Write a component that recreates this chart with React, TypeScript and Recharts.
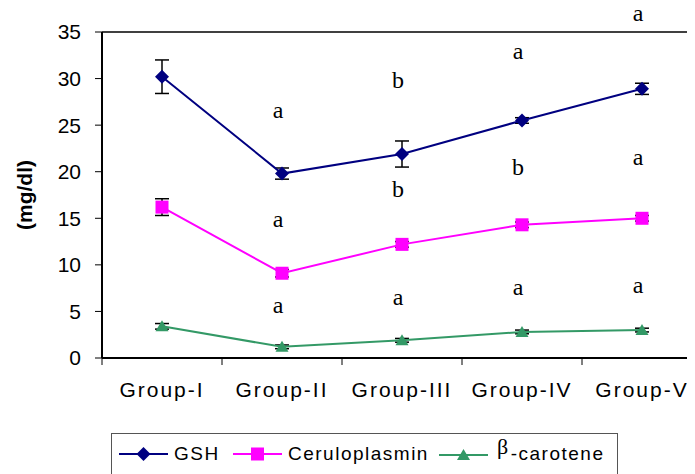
import React from 'react';
import { LineChart, Line, XAxis, YAxis, ErrorBar, ReferenceLine, ReferenceDot, Label } from 'recharts';

const groups = ['Group-I', 'Group-II', 'Group-III', 'Group-IV', 'Group-V'];
const gsh = [30.2, 19.8, 21.9, 25.5, 28.9];
const gshErr = [1.8, 0.6, 1.4, 0.3, 0.6];
const cerulo = [16.2, 9.1, 12.2, 14.3, 15.0];
const ceruloErr = [0.9, 0.4, 0.3, 0.3, 0.3];
const carotene = [3.4, 1.2, 1.9, 2.8, 3.0];
const caroteneErr = [0.3, 0.2, 0.2, 0.2, 0.2];
const yTicks = [0, 5, 10, 15, 20, 25, 30, 35];

// significance letters: group, letter, value at baseline
const letters = [
  { group: 'Group-II', text: 'a', y: 25.8 },
  { group: 'Group-II', text: 'a', y: 14.1 },
  { group: 'Group-II', text: 'a', y: 4.8 },
  { group: 'Group-III', text: 'b', y: 29.0 },
  { group: 'Group-III', text: 'b', y: 17.3 },
  { group: 'Group-III', text: 'a', y: 5.7 },
  { group: 'Group-IV', text: 'a', y: 32.1 },
  { group: 'Group-IV', text: 'b', y: 19.6 },
  { group: 'Group-IV', text: 'a', y: 6.8 },
  { group: 'Group-V', text: 'a', y: 36.2 },
  { group: 'Group-V', text: 'a', y: 20.7 },
  { group: 'Group-V', text: 'a', y: 7.0 },
];

const data = groups.map((g, i) => ({
  group: g,
  gsh: gsh[i],
  gshErr: gshErr[i],
  cerulo: cerulo[i],
  ceruloErr: ceruloErr[i],
  carotene: carotene[i],
  caroteneErr: caroteneErr[i],
}));

const series = [
  { key: 'gsh', err: 'gshErr', name: 'GSH', color: '#000080', shape: 'diamond' },
  { key: 'cerulo', err: 'ceruloErr', name: 'Ceruloplasmin', color: '#FF00FF', shape: 'square' },
  { key: 'carotene', err: 'caroteneErr', name: '-carotene', color: '#339966', shape: 'triangle' },
];

const SANS = '"Liberation Sans", Arial, sans-serif';
const SERIF = '"Liberation Serif", "Times New Roman", serif';

const CHART_W = 700;
const Y_AXIS_W = 94;
const MARGIN_R = 6;
const BAND = (CHART_W - Y_AXIS_W - MARGIN_R) / groups.length;

function marker(shape: string, cx: number, cy: number, color: string, key?: any) {
  if (shape === 'diamond') {
    return <polygon key={key} points={`${cx},${cy - 7} ${cx + 7},${cy} ${cx},${cy + 7} ${cx - 7},${cy}`} fill={color} />;
  }
  if (shape === 'square') {
    return <rect key={key} x={cx - 6.5} y={cy - 6.5} width={13} height={13} fill={color} />;
  }
  return <polygon key={key} points={`${cx},${cy - 6} ${cx + 6.5},${cy + 5} ${cx - 6.5},${cy + 5}`} fill={color} />;
}

// category label at band centre, tick mark at band boundary
function GroupTick(props: any) {
  const { x, y, payload, index } = props;
  const top = y - 24;
  return (
    <g>
      <line x1={x - BAND / 2} y1={top} x2={x - BAND / 2} y2={top + 7} stroke="#000" />
      {index === groups.length - 1 && <line x1={x + BAND / 2} y1={top} x2={x + BAND / 2} y2={top + 7} stroke="#000" />}
      <text x={x} y={y} dy="0.71em" textAnchor="middle" fill="#000" fontSize={21} fontFamily={SANS} letterSpacing={2}>
        {payload.value}
      </text>
    </g>
  );
}

function LegendBox() {
  return (
    <div
      style={{
        position: 'absolute',
        left: 103,
        top: 425,
        width: 507,
        height: 60,
        border: '1px solid #555',
        boxSizing: 'border-box',
        fontFamily: SANS,
        fontSize: 19,
        letterSpacing: 1.5,
        color: '#000',
      }}
    >
      {series.map((s, i) => {
        const left = [7, 121, 327][i];
        return (
          <div key={s.key} style={{ position: 'absolute', left, top: 8, display: 'flex', alignItems: 'center', whiteSpace: 'nowrap' }}>
            <svg width={50} height={24} style={{ display: 'block' }}>
              <line x1={0} y1={12} x2={49} y2={12} stroke={s.color} strokeWidth={2} />
              {marker(s.shape, 24.5, 12, s.color)}
            </svg>
            {s.shape === 'triangle' ? (
              <span style={{ marginLeft: 8, position: 'relative', top: -2 }}>
                <span style={{ fontFamily: SERIF, fontSize: 22, position: 'relative', top: -6, marginRight: 1 }}>β</span>
                {s.name}
              </span>
            ) : (
              <span style={{ marginLeft: 5 }}>{s.name}</span>
            )}
          </div>
        );
      })}
    </div>
  );
}

export default function App() {
  return (
    <div style={{ position: 'relative', width: 687, height: 466, overflow: 'hidden', background: '#fff' }}>
      <LineChart width={CHART_W} height={466} data={data} margin={{ top: 24, right: MARGIN_R, bottom: 86, left: 0 }}>
        <XAxis
          dataKey="group"
          scale="band"
          axisLine={{ stroke: '#000', strokeWidth: 2 }}
          tickLine={false}
          tickSize={0}
          tickMargin={24}
          height={30}
          interval={0}
          tick={<GroupTick />}
        />
        <YAxis
          domain={[0, 35]}
          ticks={yTicks}
          width={Y_AXIS_W}
          interval={0}
          tickSize={7}
          tickMargin={14}
          axisLine={{ stroke: '#000', strokeWidth: 2 }}
          tickLine={{ stroke: '#000', strokeWidth: 1 }}
          tick={{ fill: '#000', fontSize: 21, fontFamily: SANS }}
        >
          <Label
            content={({ viewBox }: any) => (
              <text
                x={16}
                y={viewBox.y + viewBox.height / 2}
                transform={`rotate(-90, 16, ${viewBox.y + viewBox.height / 2})`}
                textAnchor="middle"
                dominantBaseline="central"
                fontFamily={SANS}
                fontWeight="bold"
                fontSize={21}
                fill="#000"
              >
                (mg/dl)
              </text>
            )}
          />
        </YAxis>
        <ReferenceLine y={35} stroke="#000" strokeWidth={1.5} />
        {series.map((s) => (
          <Line
            key={s.key}
            dataKey={s.key}
            stroke={s.color}
            strokeWidth={2}
            isAnimationActive={false}
            activeDot={false}
            dot={(p: any) => marker(s.shape, p.cx, p.cy, s.color, `${s.key}-${p.index}`)}
          >
            <ErrorBar dataKey={s.err} width={7} stroke="#000" strokeWidth={1.5} direction="y" />
          </Line>
        ))}
        {letters.map((l, i) => (
          <ReferenceDot
            key={i}
            x={l.group}
            y={l.y}
            ifOverflow="visible"
            shape={(p: any) => (
              <text x={p.cx - 4} y={p.cy} textAnchor="middle" fontFamily={SERIF} fontSize={24} fill="#000">
                {l.text}
              </text>
            )}
          />
        ))}
      </LineChart>
      <LegendBox />
    </div>
  );
}
